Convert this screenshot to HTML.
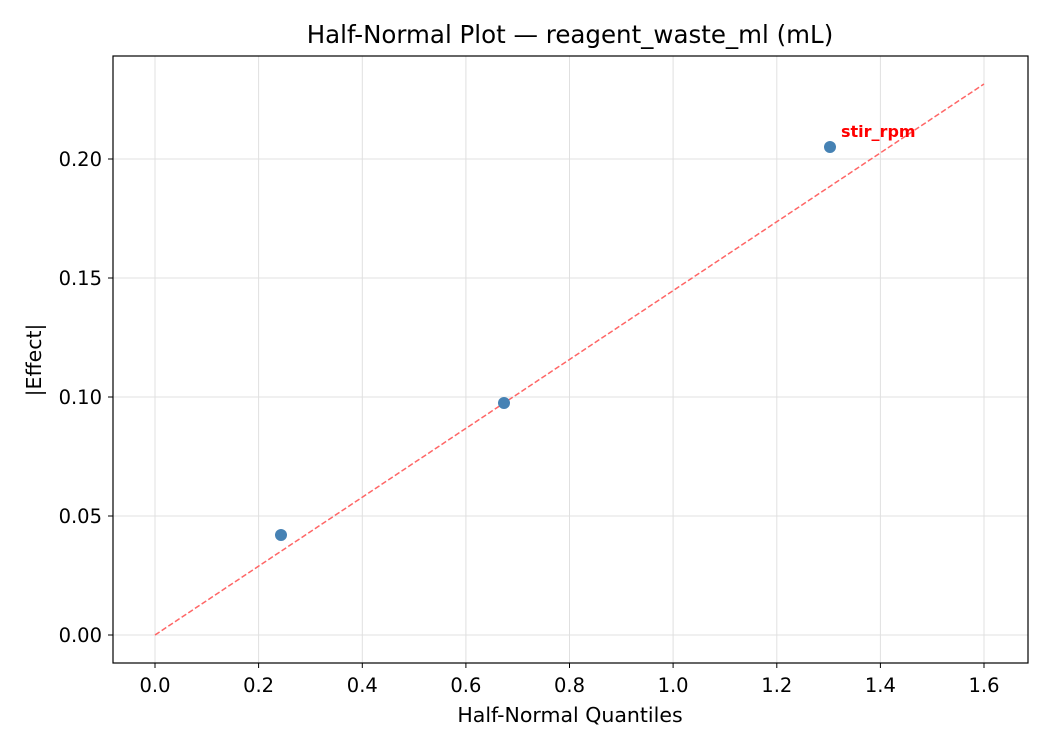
<!DOCTYPE html>
<html><head><meta charset="utf-8"><style>body{margin:0;background:#fff}svg{display:block}text{font-family:"DejaVu Sans","Liberation Sans",sans-serif}</style></head>
<body>
<svg width="1050" height="750" viewBox="0 0 1050 750" xmlns="http://www.w3.org/2000/svg">
<rect width="1050" height="750" fill="#fff"/>
<g stroke="#e0e0e0" stroke-width="1">
<line x1="155" y1="56" x2="155" y2="663"/><line x1="258.6" y1="56" x2="258.6" y2="663"/>
<line x1="362.3" y1="56" x2="362.3" y2="663"/><line x1="465.9" y1="56" x2="465.9" y2="663"/>
<line x1="569.5" y1="56" x2="569.5" y2="663"/><line x1="673.1" y1="56" x2="673.1" y2="663"/>
<line x1="776.8" y1="56" x2="776.8" y2="663"/><line x1="880.4" y1="56" x2="880.4" y2="663"/>
<line x1="984" y1="56" x2="984" y2="663"/>
<line x1="113" y1="635" x2="1028" y2="635"/><line x1="113" y1="516" x2="1028" y2="516"/>
<line x1="113" y1="397" x2="1028" y2="397"/><line x1="113" y1="278" x2="1028" y2="278"/>
<line x1="113" y1="159" x2="1028" y2="159"/>
</g>
<line x1="155" y1="635" x2="984" y2="84" stroke="#ff6666" stroke-width="1.5" stroke-dasharray="5.5,2.5"/>
<g fill="#4682b4"><circle cx="281" cy="535" r="6"/><circle cx="504" cy="403" r="6"/><circle cx="830" cy="147" r="6"/></g>
<text x="841" y="137" font-size="16" font-weight="bold" fill="red">stir_rpm</text>
<rect x="113" y="56" width="915" height="607" fill="none" stroke="#000" stroke-width="1.2"/>
<g stroke="#000" stroke-width="1">
<line x1="155" y1="663" x2="155" y2="668"/><line x1="258.6" y1="663" x2="258.6" y2="668"/><line x1="362.3" y1="663" x2="362.3" y2="668"/><line x1="465.9" y1="663" x2="465.9" y2="668"/><line x1="569.5" y1="663" x2="569.5" y2="668"/><line x1="673.1" y1="663" x2="673.1" y2="668"/><line x1="776.8" y1="663" x2="776.8" y2="668"/><line x1="880.4" y1="663" x2="880.4" y2="668"/><line x1="984" y1="663" x2="984" y2="668"/>
<line x1="108" y1="635" x2="113" y2="635"/><line x1="108" y1="516" x2="113" y2="516"/><line x1="108" y1="397" x2="113" y2="397"/><line x1="108" y1="278" x2="113" y2="278"/><line x1="108" y1="159" x2="113" y2="159"/>
</g>
<g font-size="19.5" text-anchor="middle" fill="#000">
<text x="155" y="692">0.0</text><text x="258.6" y="692">0.2</text><text x="362.3" y="692">0.4</text><text x="465.9" y="692">0.6</text><text x="569.5" y="692">0.8</text><text x="673.1" y="692">1.0</text><text x="776.8" y="692">1.2</text><text x="880.4" y="692">1.4</text><text x="984" y="692">1.6</text>
</g>
<g font-size="19.5" text-anchor="end" fill="#000">
<text x="102" y="642">0.00</text><text x="102" y="523">0.05</text><text x="102" y="404">0.10</text><text x="102" y="285">0.15</text><text x="102" y="166">0.20</text>
</g>
<text x="570" y="722" font-size="20.5" text-anchor="middle">Half-Normal Quantiles</text>
<text transform="translate(41,360) rotate(-90)" font-size="20.5" text-anchor="middle">|Effect|</text>
<text x="570" y="43" font-size="24.5" text-anchor="middle">Half-Normal Plot — reagent_waste_ml (mL)</text>
</svg>
</body></html>
